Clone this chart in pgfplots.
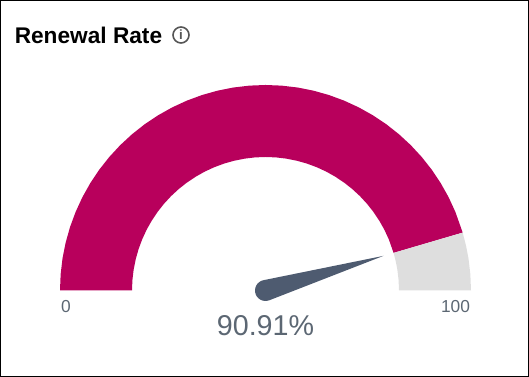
\documentclass[border=0pt]{standalone}
\usepackage{pgfplots}
\usepackage{pgfplotstable}
\usepackage{fontspec}
\setmainfont{Liberation Sans}
\pgfplotsset{compat=1.18}
\definecolor{gaugered}{HTML}{B8005C}
\definecolor{gaugegrey}{HTML}{DEDEDE}
\definecolor{needle}{HTML}{4E5B70}
\definecolor{txtgrey}{HTML}{5C6773}
\definecolor{icongrey}{HTML}{555555}
% gauge value v (0-100) and radius r
\pgfplotstableread[row sep=\\]{
v r\\ 0 205.5\\ 2.5 205.5\\ 5 205.5\\ 7.5 205.5\\ 10 205.5\\ 12.5 205.5\\ 15 205.5\\ 17.5 205.5\\ 20 205.5\\ 22.5 205.5\\ 25 205.5\\ 27.5 205.5\\ 30 205.5\\ 32.5 205.5\\ 35 205.5\\ 37.5 205.5\\ 40 205.5\\ 42.5 205.5\\ 45 205.5\\ 47.5 205.5\\ 50 205.5\\ 52.5 205.5\\ 55 205.5\\ 57.5 205.5\\ 60 205.5\\ 62.5 205.5\\ 65 205.5\\ 67.5 205.5\\ 70 205.5\\ 72.5 205.5\\ 75 205.5\\ 77.5 205.5\\ 80 205.5\\ 82.5 205.5\\ 85 205.5\\ 87.5 205.5\\ 90.91 205.5\\
90.91 133.5\\ 87.5 133.5\\ 85 133.5\\ 82.5 133.5\\ 80 133.5\\ 77.5 133.5\\ 75 133.5\\ 72.5 133.5\\ 70 133.5\\ 67.5 133.5\\ 65 133.5\\ 62.5 133.5\\ 60 133.5\\ 57.5 133.5\\ 55 133.5\\ 52.5 133.5\\ 50 133.5\\ 47.5 133.5\\ 45 133.5\\ 42.5 133.5\\ 40 133.5\\ 37.5 133.5\\ 35 133.5\\ 32.5 133.5\\ 30 133.5\\ 27.5 133.5\\ 25 133.5\\ 22.5 133.5\\ 20 133.5\\ 17.5 133.5\\ 15 133.5\\ 12.5 133.5\\ 10 133.5\\ 7.5 133.5\\ 5 133.5\\ 2.5 133.5\\ 0 133.5\\
}\filled
\pgfplotstableread[row sep=\\]{
v r\\ 90.91 205.5\\ 93 205.5\\ 95 205.5\\ 97.5 205.5\\ 100 205.5\\ 100 133.5\\ 97.5 133.5\\ 95 133.5\\ 93 133.5\\ 90.91 133.5\\
}\rest
\pgfplotstableread[row sep=\\]{
v r\\ 90.91 123\\ 43.6 10.5\\ 37 10.5\\ 30 10.5\\ 23 10.5\\ 16 10.5\\ 9 10.5\\ 2 10.5\\ -5 10.5\\ -12 10.5\\ -19 10.5\\ -26 10.5\\ -33 10.5\\ -40 10.5\\ -47 10.5\\ -54 10.5\\ -61.8 10.5\\
}\pointer
\begin{document}
\begin{tikzpicture}
\path[use as bounding box] (0,0) rectangle (396.75pt,282.75pt);
\begin{axis}[
  at={(0,0)}, anchor=south west,
  scale only axis, width=396.75pt, height=282.75pt,
  xmin=-265.5, xmax=263.5, ymin=-86.5, ymax=290.5,
  xtick=\empty, ytick=\empty,
  axis line style={black, line width=1.5pt},
  clip=false,
  table/x expr={\thisrow{r}*cos(180-1.8*\thisrow{v})},
  table/y expr={\thisrow{r}*sin(180-1.8*\thisrow{v})},
]
\addplot[fill=gaugered, draw=none] table {\filled} -- cycle;
\addplot[fill=gaugegrey, draw=none] table {\rest} -- cycle;
\addplot[fill=needle, draw=none] table {\pointer} -- cycle;
\node[anchor=base west, inner sep=0pt, font=\fontsize{17pt}{20pt}\selectfont\bfseries, text=black] at (axis cs:-251,246.5) {Renewal Rate};
\draw[icongrey, line width=1.2pt] (axis cs:-84.5,255.5) circle[radius=6pt];
\node[anchor=base, inner sep=0pt, font=\fontsize{10pt}{10pt}\selectfont\bfseries, text=icongrey] at (axis cs:-84.5,250.5) {i};
\node[anchor=base, inner sep=0pt, font=\fontsize{13pt}{15pt}\selectfont, text=txtgrey] at (axis cs:-199.5,-22.5) {0};
\node[anchor=base, inner sep=0pt, font=\fontsize{13pt}{15pt}\selectfont, text=txtgrey] at (axis cs:190,-22.5) {100};
\node[anchor=base, inner sep=0pt, font=\fontsize{21.5pt}{26pt}\selectfont, text=txtgrey] at (axis cs:0,-45.5) {90.91\%};
\end{axis}
\end{tikzpicture}
\end{document}
